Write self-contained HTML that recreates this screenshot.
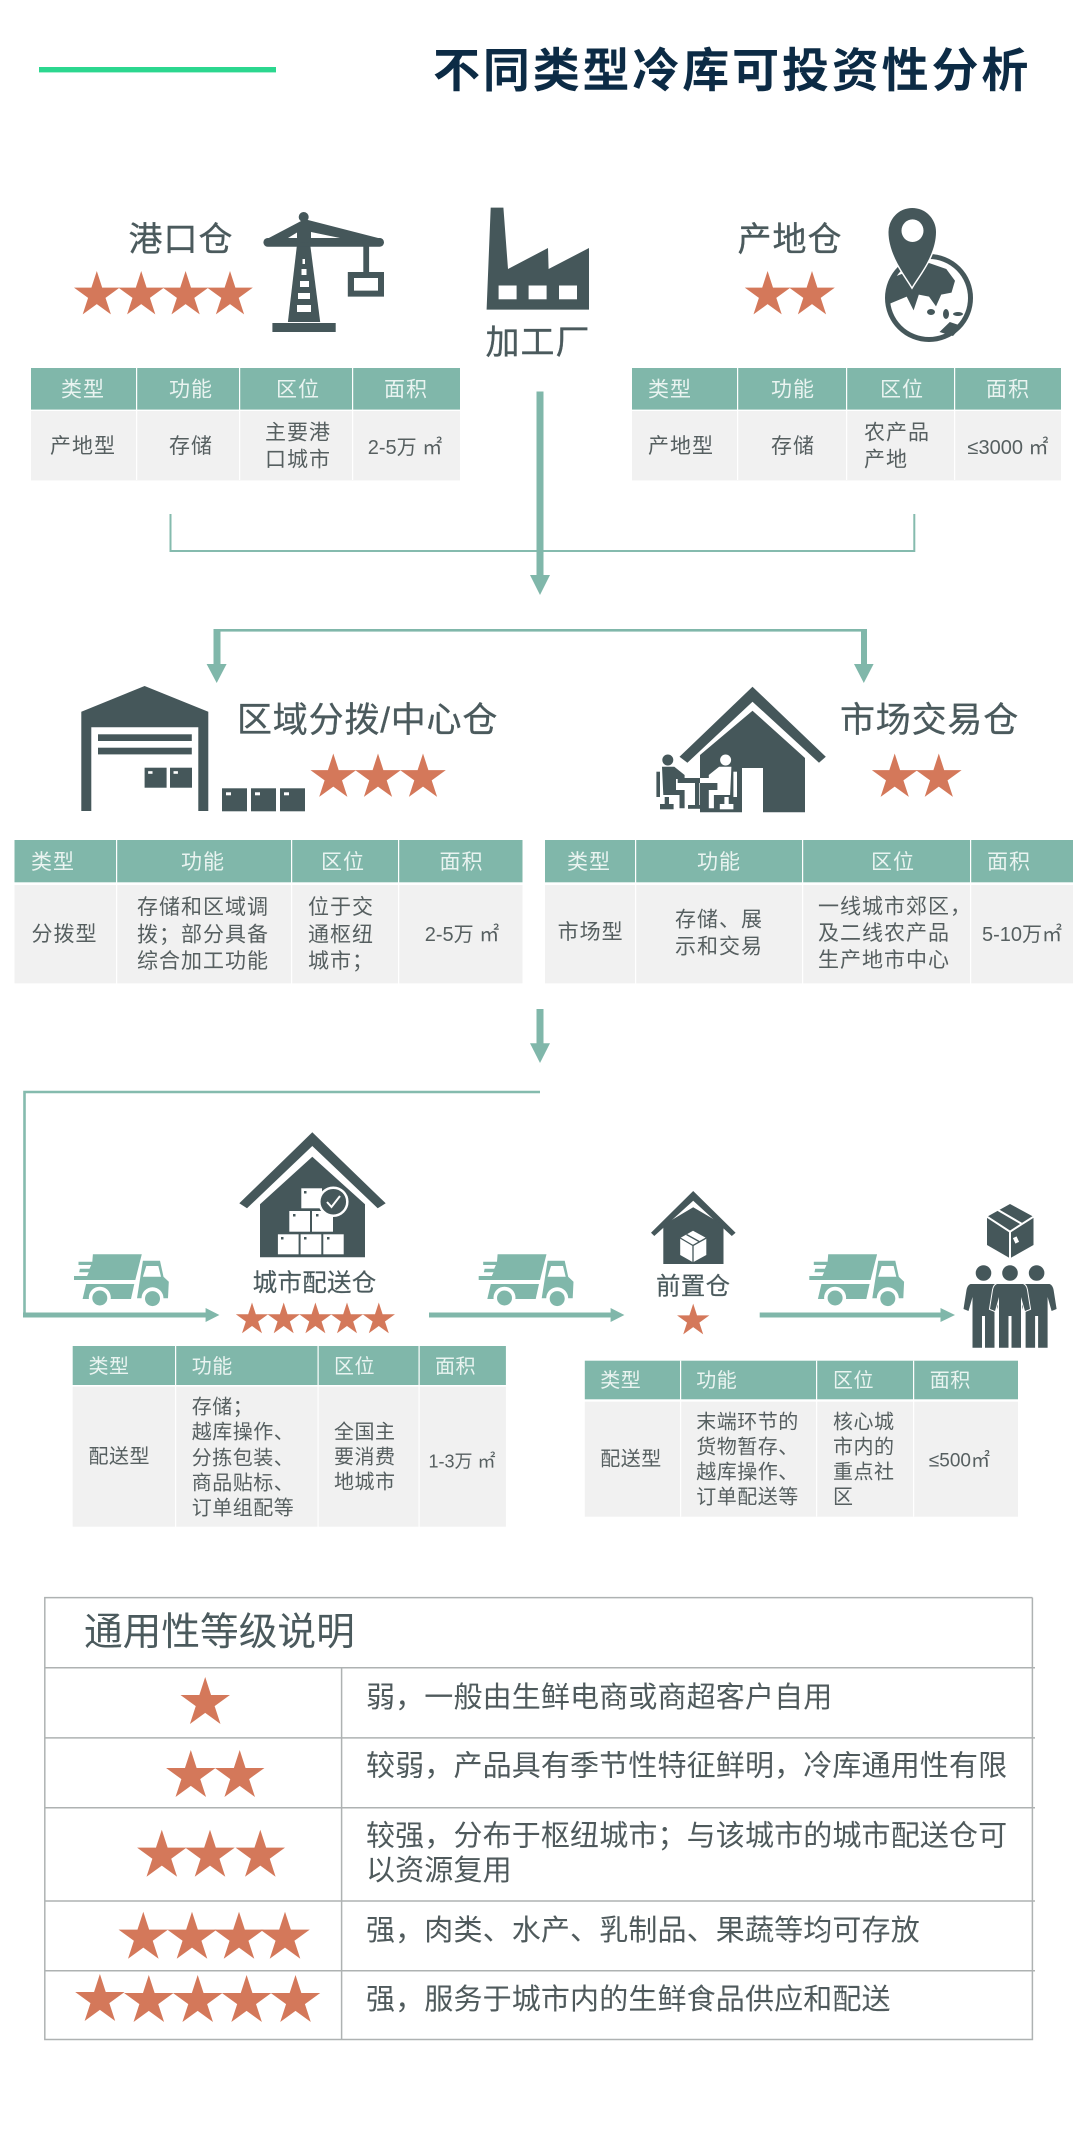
<!DOCTYPE html>
<html lang="zh">
<head>
<meta charset="utf-8">
<title>不同类型冷库可投资性分析</title>
<style>
html,body{margin:0;padding:0;background:#fff}
svg{display:block}
text{font-family:"Liberation Sans","Noto Sans CJK SC",sans-serif;dominant-baseline:central;transform:translateY(1px)}
.t{font-size:47px;font-weight:700;fill:#0c2b45;letter-spacing:2.85px;transform:translateY(2.5px)}
.h1{font-size:34px;fill:#4b5a5d;letter-spacing:1px;text-anchor:middle;stroke:#4b5a5d;stroke-width:.3px}
.h2{font-size:35px;fill:#4b5a5d;letter-spacing:.8px;stroke:#4b5a5d;stroke-width:.3px}
.h3{font-size:24.5px;fill:#4b5a5d;letter-spacing:.3px;text-anchor:middle;stroke:#4b5a5d;stroke-width:.15px}
.th{font-size:21px;fill:#eaf4f1;letter-spacing:1px;text-anchor:middle}
.ths{font-size:20px;fill:#eaf4f1;letter-spacing:.5px}
.td{font-size:21px;fill:#565f60;letter-spacing:1px}
.m{text-anchor:middle}
.tds{font-size:20px;fill:#565f60;letter-spacing:.5px}
.a{font-size:20px;letter-spacing:0}
.b{font-size:18px;letter-spacing:0}
.l1{font-size:38.7px;fill:#4b5a5d;letter-spacing:0}
.l2{font-size:29px;fill:#4f5a5c;letter-spacing:.15px;transform:none}
.d{fill:#45575a}
.g{fill:#80b7aa}
.st{fill:#d4785a}
</style>
</head>
<body>
<svg width="1080" height="2146" viewBox="0 0 1080 2146" xmlns="http://www.w3.org/2000/svg">
<defs>
<polygon id="s" points="0,-1 .2245,-.309 .951,-.309 .363,.118 .588,.809 0,.382 -.588,.809 -.363,.118 -.951,-.309 -.2245,-.309"/>
<g id="truck">
<polygon class="g" points="18.9,.3 67.8,.3 61.3,26 0,26 0,22 13.1,22 14.8,18.3 5.2,18.3 5.9,14.7 15.5,14.7 17.2,11 4.5,11 4.5,7.7 18.3,7.7"/>
<polygon class="g" points="12.1,30 60.3,30 57,45 8.6,45"/>
<polygon class="g" points="68.9,6.7 86,6.7 89.5,22.7 94.8,27.7 94,44.3 63,44.3"/>
<polygon fill="#fff" points="72.3,12 84.3,12 87,22.7 68.9,22.7"/>
<circle cx="25.8" cy="43.7" r="11" fill="#fff"/><circle cx="25.8" cy="44" r="7.5" class="g"/>
<circle cx="78.5" cy="44.3" r="11" fill="#fff"/><circle cx="78.5" cy="44.6" r="7.5" class="g"/>
</g>
<g id="wb"><rect width="25" height="23" class="d"/><rect x="4" y="4" width="5" height="3" fill="#fff"/></g>
<path id="per" class="d" d="M-13,1284H13Q16,1285 17,1290L20,1309 15,1311 11,1297V1347.7H1.5V1316H-1.5V1347.7H-11V1297L-15,1311 -20,1309 -17,1290Q-16,1285 -13,1284Z"/>
<g id="sit">
<circle cx="667.8" cy="760" r="5.5"/>
<path d="M662,766.7H674.3L684.6,775V779H676V790H684.6V808.3H679.5V795H663.3Z"/>
<rect x="656.4" y="771.7" width="3.6" height="25.3"/>
<rect x="664.7" y="797" width="4.3" height="8"/>
<rect x="660" y="804" width="13.6" height="5.3"/>
</g>
</defs>

<!-- title -->
<rect x="39" y="67" width="237" height="5.4" fill="#2bd78f"/>
<text class="t" x="433" y="68">不同类型冷库可投资性分析</text>

<!-- crane -->
<g class="d">
<circle cx="303.7" cy="217" r="5"/>
<polygon points="297.9,237 309.2,237 320.2,322 287.9,322"/>
<rect x="272.4" y="323" width="63.3" height="9"/>
<rect x="263.4" y="238" width="120.6" height="8.7" rx="4.3"/>
<polygon points="265,240 303,220 308,220 382,239 330,244"/>
<rect x="363.3" y="244" width="5.8" height="30"/>
<path fill-rule="evenodd" d="M347.8,272H384V296.6H347.8ZM354,278V290.6H378V278Z"/>
</g>
<g fill="#fff">
<polygon points="288,238 297,232.5 297,238"/>
<polygon points="311,232 340,238 311,238"/>
<rect x="302.5" y="259" width="2.5" height="5"/>
<rect x="301.5" y="269" width="5" height="6"/>
<rect x="300" y="281" width="9" height="6"/>
<rect x="298" y="293" width="12" height="6"/>
<rect x="297" y="305" width="14" height="7"/>
</g>

<!-- factory -->
<polygon class="d" points="490.7,207.6 503.4,207.6 508,269 548,248 548.6,269 589,248 589,309.6 486.6,309.6"/>
<g fill="#fff">
<rect x="498.6" y="285.5" width="18" height="13.8"/>
<rect x="528.6" y="285.5" width="18" height="13.8"/>
<rect x="559" y="285.5" width="18" height="13.8"/>
</g>
<text class="h1" x="538" y="342">加工厂</text>

<!-- pin globe -->
<circle cx="929" cy="298" r="41.5" fill="#fff" stroke="#45575a" stroke-width="5"/>
<g class="d">
<polygon points="894.7,276.8 929,263 946.3,269 955,280.7 951.5,292.6 941.2,294.6 936,306.4 929,296.6 918.8,294.6 913.6,310.4 906.7,296.6 887.8,304.5 886,290.6"/>
<polygon points="939.5,332 949.8,322 961.8,326 953,336"/>
<ellipse cx="931" cy="312" rx="4" ry="3"/><ellipse cx="958" cy="314" rx="5" ry="2"/><ellipse cx="946" cy="314" rx="3" ry="5"/>
</g>
<path class="d" stroke="#fff" stroke-width="3" paint-order="stroke" d="M912,286.7C905,275 888.5,255 888.5,232A23.7,24 0 0 1 936,232C936,255 919,275 912,286.7Z"/>
<ellipse cx="912.5" cy="230.7" rx="11" ry="11.3" fill="#fff"/>

<!-- top headings/stars -->
<text class="h1" x="181" y="239">港口仓</text>
<g class="st">
<use href="#s" transform="translate(96.8 295) scale(24)"/>
<use href="#s" transform="translate(141.2 295) scale(24)"/>
<use href="#s" transform="translate(185.6 295) scale(24)"/>
<use href="#s" transform="translate(230 295) scale(24)"/>
</g>
<text class="h1" x="790" y="239">产地仓</text>
<g class="st">
<use href="#s" transform="translate(767.6 295) scale(24)"/>
<use href="#s" transform="translate(812 295) scale(24)"/>
</g>

<!-- table 1 -->
<rect x="31" y="368" width="429" height="41.6" class="g"/>
<rect x="31" y="411" width="429" height="69.4" fill="#f1f1f1"/>
<g fill="#fff"><rect x="136" y="368" width="1.2" height="112"/><rect x="239" y="368" width="1.2" height="112"/><rect x="352" y="368" width="1.2" height="112"/></g>
<text class="th" x="83" y="389">类型</text><text class="th" x="191" y="389">功能</text><text class="th" x="298" y="389">区位</text><text class="th" x="406" y="389">面积</text>
<text class="td m" x="83" y="445.6">产地型</text><text class="td m" x="191" y="445.6">存储</text>
<text class="td m" x="298" y="432">主要港</text><text class="td m" x="298" y="459">口城市</text>
<text class="td m a" x="405" y="447">2-5万 ㎡</text>

<!-- table 2 -->
<rect x="632" y="368" width="429" height="41.6" class="g"/>
<rect x="632" y="411" width="429" height="69.4" fill="#f1f1f1"/>
<g fill="#fff"><rect x="737" y="368" width="1.2" height="112"/><rect x="846" y="368" width="1.2" height="112"/><rect x="954" y="368" width="1.2" height="112"/></g>
<text class="th" x="670" y="389">类型</text><text class="th" x="793" y="389">功能</text><text class="th" x="902" y="389">区位</text><text class="th" x="1008" y="389">面积</text>
<text class="td m" x="681" y="445.6">产地型</text><text class="td m" x="793" y="445.6">存储</text>
<text class="td" x="864" y="432">农产品</text><text class="td" x="864" y="459">产地</text>
<text class="td m a" x="1008" y="447">≤3000 ㎡</text>

<!-- connectors 1 -->
<path d="M170.5,514V551H914.3V514" fill="none" stroke="#85bbae" stroke-width="2"/>
<rect x="536.5" y="391.5" width="7" height="185" class="g"/>
<polygon class="g" points="530,575 550,575 540,595"/>
<rect x="214" y="629" width="653" height="2.6" class="g"/>
<rect x="213.5" y="629" width="7" height="36" class="g"/>
<polygon class="g" points="206.6,664 226.6,664 216.7,683"/>
<rect x="861" y="629" width="6" height="36" class="g"/>
<polygon class="g" points="854,664 873.6,664 863.8,683"/>

<!-- warehouse -->
<path class="d" fill-rule="evenodd" d="M144.6,686L208.3,711.7V811H198.3V727.3H91.3V811H81.3V711.7Z"/>
<g class="d"><rect x="98" y="734.3" width="93.8" height="6.7"/><rect x="98" y="747.7" width="93.8" height="6.7"/></g>
<use href="#wb" transform="translate(144.6 767.7) scale(.88 .87)"/>
<use href="#wb" transform="translate(170 767.7) scale(.88 .87)"/>
<use href="#wb" x="222" y="788.3"/><use href="#wb" x="251" y="788.3"/><use href="#wb" x="280" y="788.3"/>
<text class="h2" x="237" y="719.3">区域分拨/中心仓</text>
<g class="st">
<use href="#s" transform="translate(333.3 777.5) scale(24)"/>
<use href="#s" transform="translate(378 777.5) scale(24)"/>
<use href="#s" transform="translate(423 777.5) scale(24)"/>
</g>

<!-- market house -->
<polygon class="d" points="752.5,686.7 825.8,756.7 819,762.7 752.5,701.7 687.4,762.7 679.5,756.7"/>
<path class="d" fill-rule="evenodd" d="M752.5,710.7L805,758V812.3H763V768H742V812.3H700V755Z"/>
<use href="#sit" class="d"/>
<g class="d"><rect x="677.7" y="778" width="23" height="5"/><rect x="695" y="783" width="4.3" height="25"/><rect x="688" y="805" width="12" height="3.8"/></g>
<g fill="#fff"><rect x="700" y="778" width="19" height="5"/><use href="#sit" transform="translate(1393.4 0) scale(-1 1)"/></g>
<text class="h2" x="840" y="719.3">市场交易仓</text>
<g class="st">
<use href="#s" transform="translate(894.7 777.5) scale(24)"/>
<use href="#s" transform="translate(938.8 777.5) scale(24)"/>
</g>

<!-- table 3 -->
<rect x="14.5" y="840" width="508" height="42.3" class="g"/>
<rect x="14.5" y="885" width="508" height="98.3" fill="#f1f1f1"/>
<g fill="#fff"><rect x="116" y="840" width="1.2" height="144"/><rect x="291" y="840" width="1.2" height="144"/><rect x="398" y="840" width="1.2" height="144"/></g>
<text class="th" x="53" y="861.7">类型</text><text class="th" x="203" y="861.7">功能</text><text class="th" x="343" y="861.7">区位</text><text class="th" x="461.5" y="861.7">面积</text>
<text class="td m" x="64.5" y="933.3">分拨型</text>
<text class="td" x="137" y="906.7">存储和区域调</text><text class="td" x="137" y="934">拨；部分具备</text><text class="td" x="137" y="960.7">综合加工功能</text>
<text class="td" x="308" y="906.7">位于交</text><text class="td" x="308" y="934">通枢纽</text><text class="td" x="308" y="960.7">城市；</text>
<text class="td m a" x="462" y="934">2-5万 ㎡</text>

<!-- table 4 -->
<rect x="545" y="840" width="528" height="42.3" class="g"/>
<rect x="545" y="885" width="528" height="98.3" fill="#f1f1f1"/>
<g fill="#fff"><rect x="635" y="840" width="1.2" height="144"/><rect x="802" y="840" width="1.2" height="144"/><rect x="970" y="840" width="1.2" height="144"/></g>
<text class="th" x="589" y="861.7">类型</text><text class="th" x="719" y="861.7">功能</text><text class="th" x="893" y="861.7">区位</text><text class="th" x="1009" y="861.7">面积</text>
<text class="td m" x="590.6" y="931.7">市场型</text>
<text class="td" x="675" y="919">存储、展</text><text class="td" x="675" y="946">示和交易</text>
<text class="td" x="818" y="906">一线城市郊区，</text><text class="td" x="818" y="932.7">及二线农产品</text><text class="td" x="818" y="959.3">生产地市中心</text>
<text class="td m a" x="1022" y="934">5-10万㎡</text>

<!-- connectors 2 -->
<rect x="536.5" y="1009" width="7" height="36" class="g"/>
<polygon class="g" points="530,1043.3 550,1043.3 540,1063"/>
<path d="M540,1092H24.5V1315" fill="none" stroke="#85bbae" stroke-width="2.6"/>
<rect x="23" y="1312.5" width="184" height="5" class="g"/>
<polygon class="g" points="205.6,1308 219.4,1315 205.6,1322"/>
<rect x="429" y="1312.5" width="183" height="5" class="g"/>
<polygon class="g" points="610.6,1308 624.4,1315 610.6,1322"/>
<rect x="759.7" y="1312.5" width="182" height="5" class="g"/>
<polygon class="g" points="940.5,1308 955,1315 940.5,1322"/>

<use href="#truck" x="74" y="1254"/>
<use href="#truck" x="478.7" y="1254"/>
<use href="#truck" x="809.3" y="1254"/>

<!-- city house -->
<polygon class="d" points="312.3,1132.3 385.7,1203.3 377.7,1208.3 312.3,1146 247,1208.3 239.3,1203.3"/>
<polygon class="d" points="312.3,1156.7 365,1204.3 365,1257.3 260,1257.3 260,1204.3"/>
<g fill="#fff">
<rect x="301.3" y="1188.3" width="20.7" height="20"/>
<rect x="289.3" y="1211" width="20.7" height="20.7"/><rect x="312" y="1211" width="21" height="20.7"/>
<rect x="277.9" y="1234.3" width="20.7" height="20"/><rect x="300.6" y="1234.3" width="20.7" height="20"/><rect x="323.3" y="1234.3" width="20.4" height="20"/>
</g>
<g class="d">
<rect x="304" y="1191" width="2.5" height="2.5"/><rect x="293" y="1214" width="2.5" height="2.5"/><rect x="316" y="1214" width="2.5" height="2.5"/>
<rect x="281" y="1237" width="2.5" height="2.5"/><rect x="304" y="1237" width="2.5" height="2.5"/><rect x="327" y="1237" width="2.5" height="2.5"/>
</g>
<circle cx="333.3" cy="1201.7" r="14" class="d" stroke="#fff" stroke-width="2.5"/>
<path d="M327,1202L331.5,1207 340,1196" fill="none" stroke="#fff" stroke-width="2"/>
<text class="h3" x="314.6" y="1282.3">城市配送仓</text>
<g class="st">
<use href="#s" transform="translate(252 1319.5) scale(17)"/>
<use href="#s" transform="translate(283.7 1319.5) scale(17)"/>
<use href="#s" transform="translate(315.4 1319.5) scale(17)"/>
<use href="#s" transform="translate(347 1319.5) scale(17)"/>
<use href="#s" transform="translate(378.8 1319.5) scale(17)"/>
</g>

<!-- pre house -->
<polygon class="d" points="693.2,1191 735.6,1232.7 731.8,1236 693.2,1200.7 654.3,1236 651,1232.7"/>
<polygon class="d" points="693.2,1207.3 723.5,1225 723.5,1264 663.3,1264 663.3,1225"/>
<polygon fill="#fff" points="693,1230.7 706.3,1238 706.3,1255 693,1262.3 680.2,1255 680.2,1238"/>
<path d="M680.2,1238L693,1245.5 706.3,1238M693,1245.5V1262.3M686.5,1234.5L700,1242" fill="none" stroke="#45575a" stroke-width="1.3"/>
<text class="h3" x="693.2" y="1286">前置仓</text>
<use href="#s" class="st" transform="translate(693.2 1320.6) scale(17)"/>

<!-- customers -->
<polygon class="d" points="1010,1204 1033.5,1216.7 1033.5,1245 1010,1258.3 987,1245 987,1216.7"/>
<path d="M987,1216.7L1010,1231.7 1033.5,1216.7M1010,1231.7V1258.3M998,1210L1022,1224" fill="none" stroke="#fff" stroke-width="2"/>
<rect x="1014" y="1237" width="4" height="6" fill="#fff" transform="rotate(-25 1016 1240)"/>
<circle cx="983.5" cy="1273" r="7.8" class="d"/><circle cx="1010" cy="1273" r="7.8" class="d"/><circle cx="1036.6" cy="1273" r="7.8" class="d"/>
<use href="#per" x="983.5"/>
<use href="#per" x="1036.6"/>
<use href="#per" x="1010" stroke="#fff" stroke-width="2" paint-order="stroke"/>

<!-- table 5 -->
<rect x="72.7" y="1346" width="433.2" height="39" class="g"/>
<rect x="72.7" y="1386.7" width="433.2" height="140" fill="#f1f1f1"/>
<g fill="#fff"><rect x="175" y="1346" width="1.2" height="181"/><rect x="317.5" y="1346" width="1.2" height="181"/><rect x="418.5" y="1346" width="1.2" height="181"/></g>
<text class="ths" x="88.5" y="1366">类型</text><text class="ths" x="191.8" y="1366">功能</text><text class="ths" x="334" y="1366">区位</text><text class="ths" x="435" y="1366">面积</text>
<text class="tds" x="88.5" y="1456">配送型</text>
<text class="tds" x="191.8" y="1406.7">存储；</text><text class="tds" x="191.8" y="1431.7">越库操作、</text><text class="tds" x="191.8" y="1457.3">分拣包装、</text><text class="tds" x="191.8" y="1482.3">商品贴标、</text><text class="tds" x="191.8" y="1507.3">订单组配等</text>
<text class="tds" x="334" y="1431.7">全国主</text><text class="tds" x="334" y="1456.7">要消费</text><text class="tds" x="334" y="1481.7">地城市</text>
<text class="tds m b" x="462" y="1460.7">1-3万 ㎡</text>

<!-- table 6 -->
<rect x="584.8" y="1360.7" width="433.2" height="38.6" class="g"/>
<rect x="584.8" y="1401.7" width="433.2" height="115" fill="#f1f1f1"/>
<g fill="#fff"><rect x="680" y="1360.7" width="1.2" height="156"/><rect x="816" y="1360.7" width="1.2" height="156"/><rect x="913" y="1360.7" width="1.2" height="156"/></g>
<text class="ths" x="600.3" y="1380">类型</text><text class="ths" x="696.3" y="1380">功能</text><text class="ths" x="833" y="1380">区位</text><text class="ths" x="929.8" y="1380">面积</text>
<text class="tds" x="600.3" y="1458.3">配送型</text>
<text class="tds" x="696.3" y="1421.7">末端环节的</text><text class="tds" x="696.3" y="1446.7">货物暂存、</text><text class="tds" x="696.3" y="1471.7">越库操作、</text><text class="tds" x="696.3" y="1496.7">订单配送等</text>
<text class="tds" x="833" y="1421.7">核心城</text><text class="tds" x="833" y="1446.7">市内的</text><text class="tds" x="833" y="1471.7">重点社</text><text class="tds" x="833" y="1496.7">区</text>
<text class="tds m" style="font-size:19px;letter-spacing:0" x="959.4" y="1460">≤500㎡</text>

<!-- legend -->
<g fill="none" stroke="#aeb2b2" stroke-width="1.5">
<path d="M1032.4,1597.6H44.8V2039.5H1032.4V1597.6"/>
<path d="M44.8,1667.7H1035M44.8,1737.9H1035M44.8,1807.7H1035M44.8,1901H1035M44.8,1970.8H1035"/>
<path d="M341.6,1667.7V2039.5"/>
</g>
<text class="l1" x="84" y="1631.7">通用性等级说明</text>
<text class="l2" x="366" y="1697.8">弱，一般由生鲜电商或商超客户自用</text>
<text class="l2" x="366" y="1766.5">较弱，产品具有季节性特征鲜明，冷库通用性有限</text>
<text class="l2" x="366" y="1836.3">较强，分布于枢纽城市；与该城市的城市配送仓可</text>
<text class="l2" x="366" y="1871.2">以资源复用</text>
<text class="l2" x="366" y="1930.8">强，肉类、水产、乳制品、果蔬等均可存放</text>
<text class="l2" x="366" y="1999.8">强，服务于城市内的生鲜食品供应和配送</text>
<g class="st">
<use href="#s" transform="translate(205.2 1703) scale(26)"/>
<use href="#s" transform="translate(190.8 1776) scale(26)"/>
<use href="#s" transform="translate(239.7 1776) scale(26)"/>
<use href="#s" transform="translate(161.8 1855.7) scale(26)"/>
<use href="#s" transform="translate(210 1855.7) scale(26)"/>
<use href="#s" transform="translate(260.3 1855.7) scale(26)"/>
<use href="#s" transform="translate(143.3 1937.7) scale(26)"/>
<use href="#s" transform="translate(192 1937.7) scale(26)"/>
<use href="#s" transform="translate(239 1937.7) scale(26)"/>
<use href="#s" transform="translate(285 1937.7) scale(26)"/>
<use href="#s" transform="translate(99.9 2000) scale(26)"/>
<use href="#s" transform="translate(148.8 2001) scale(26)"/>
<use href="#s" transform="translate(197.7 2001) scale(26)"/>
<use href="#s" transform="translate(246.6 2001) scale(26)"/>
<use href="#s" transform="translate(295.5 2001) scale(26)"/>
</g>
</svg>
</body>
</html>
